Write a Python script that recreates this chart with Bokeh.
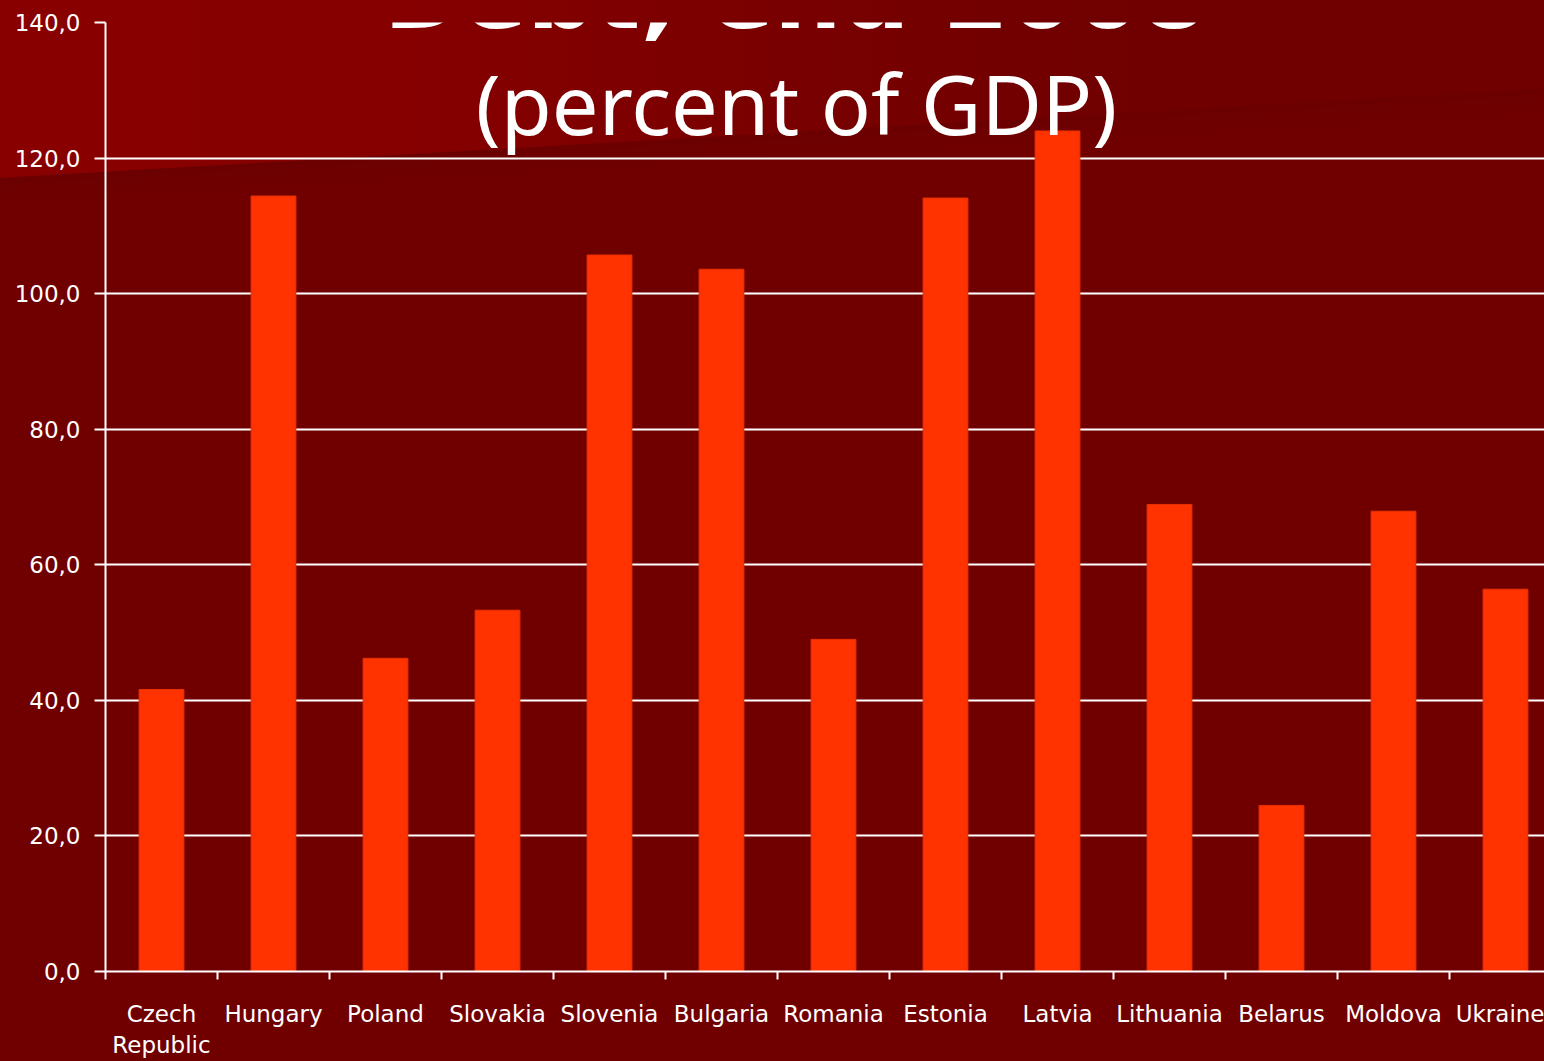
from bokeh.plotting import figure
from bokeh.models import FixedTicker, Range1d, Label
from bokeh.embed import file_html
from bokeh.resources import INLINE

countries = ["Czech\nRepublic", "Hungary", "Poland", "Slovakia", "Slovenia", "Bulgaria",
             "Romania", "Estonia", "Latvia", "Lithuania", "Belarus", "Moldova", "Ukraine"]
debt = [41.6, 114.4, 46.2, 53.3, 105.7, 103.6, 49.0, 114.1, 124.0, 68.9, 24.5, 67.9, 56.4]
y_ticks = [0, 20, 40, 60, 80, 100, 120, 140]
y_tick_labels = ["0,0", "20,0", "40,0", "60,0", "80,0", "100,0", "120,0", "140,0"]
title_text = "Debt, end 2008"
subtitle_text = "(percent of GDP)"

W, H = 1544, 1061
LEFT, TOP, BOTTOM = 105, 22, 90
slot = 112.0
x_end = (W - LEFT) / slot

centers = [i + 0.5 for i in range(len(countries))]
bounds = list(range(len(countries) + 1))

bg_css = ("linear-gradient(176.7deg, rgba(0,0,0,0) 0px, rgba(0,0,0,0) 177px, "
          "#6b0000 178px, #6e0000 190px, #700000 205px), "
          "linear-gradient(90deg, #890000 0px, #860000 400px, #7c0000 700px, "
          "#740000 950px, #700000 1150px)")

p = figure(width=W, height=H, output_backend="svg", toolbar_location=None,
           x_range=Range1d(0, x_end), y_range=Range1d(0, 140),
           min_border_left=LEFT, min_border_top=TOP, min_border_bottom=BOTTOM,
           min_border_right=0, outline_line_color=None,
           styles={"background-color": "#700000", "background-image": bg_css})
p.background_fill_alpha = 0
p.border_fill_alpha = 0

p.vbar(x=centers, top=debt, width=0.40, fill_color="#FF3300", line_color="#E83000", line_width=1)

# y axis
ya = p.yaxis[0]
ya.ticker = FixedTicker(ticks=y_ticks, minor_ticks=[])
ya.major_label_overrides = {t: l for t, l in zip(y_ticks, y_tick_labels)}
ya.axis_line_color = "white"
ya.axis_line_width = 2
ya.major_tick_line_color = "white"
ya.major_tick_line_width = 2
ya.major_tick_out = 11
ya.major_tick_in = 0
ya.minor_tick_line_color = None
ya.major_label_text_color = "white"
ya.major_label_text_font = "DejaVu Sans"
ya.major_label_text_font_size = "23px"
ya.major_label_standoff = 14

# x axis
xa = p.xaxis[0]
xa.ticker = FixedTicker(ticks=centers, minor_ticks=bounds)
xa.major_label_overrides = {c: n for c, n in zip(centers, countries)}
xa.axis_line_color = "white"
xa.axis_line_width = 2
xa.major_tick_line_color = None
xa.minor_tick_line_color = "white"
xa.minor_tick_line_width = 2
xa.minor_tick_out = 8
xa.minor_tick_in = 0
xa.major_label_text_color = "white"
xa.major_label_text_font = "DejaVu Sans"
xa.major_label_text_font_size = "23px"
xa.major_label_standoff = 21

p.xgrid.grid_line_color = None
p.ygrid.ticker = FixedTicker(ticks=y_ticks)
p.ygrid.grid_line_color = "white"
p.ygrid.grid_line_width = 2

p.add_layout(Label(x=6.16, y=144.0, text=title_text, text_align="center",
                   text_baseline="alphabetic", text_color="white",
                   text_font="DejaVu Sans", text_font_style="bold",
                   text_font_size="95px"))
p.add_layout(Label(x=6.17, y=128.2, text=subtitle_text, text_align="center",
                   text_baseline="alphabetic", text_color="white",
                   text_font="Noto Sans", text_font_size="83px"))

open("out.html", "w").write(file_html(p, INLINE))
